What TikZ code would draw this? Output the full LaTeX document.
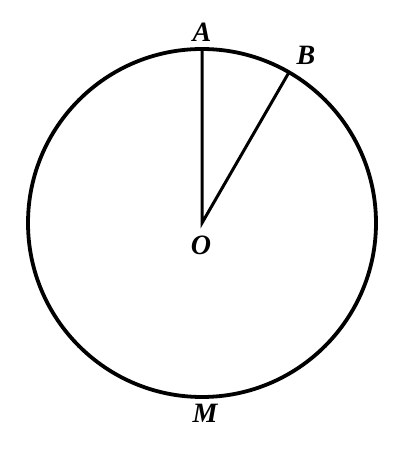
\documentclass[tikz,border=0pt]{standalone}
\usepackage{fontspec}
\setmainfont{Liberation Serif}
\usetikzlibrary{calc}
\begin{document}
\begin{tikzpicture}[x=1pt,y=1pt,
  lbl/.style={font=\fontsize{28}{28}\selectfont\bfseries\itshape, inner sep=0pt},
  radius line/.style={line width=3pt}]
\useasboundingbox (0,0) rectangle (405,450);
\coordinate (O) at (202,227);
\draw[line width=3.8pt] (O) circle (174);
\coordinate (A) at ($(O)+(90:174)$);
\coordinate (B) at ($(O)+(60:174)$);
\draw[radius line, line join=miter] (A) -- (O) -- (B);
\node[lbl] (la) at (202,418) {A};
\node[lbl] (lb) at (306,395) {B};
\node[lbl] (lo) at (201,205) {O};
\node[lbl] (lm) at (205,37) {M};
\end{tikzpicture}
\end{document}
